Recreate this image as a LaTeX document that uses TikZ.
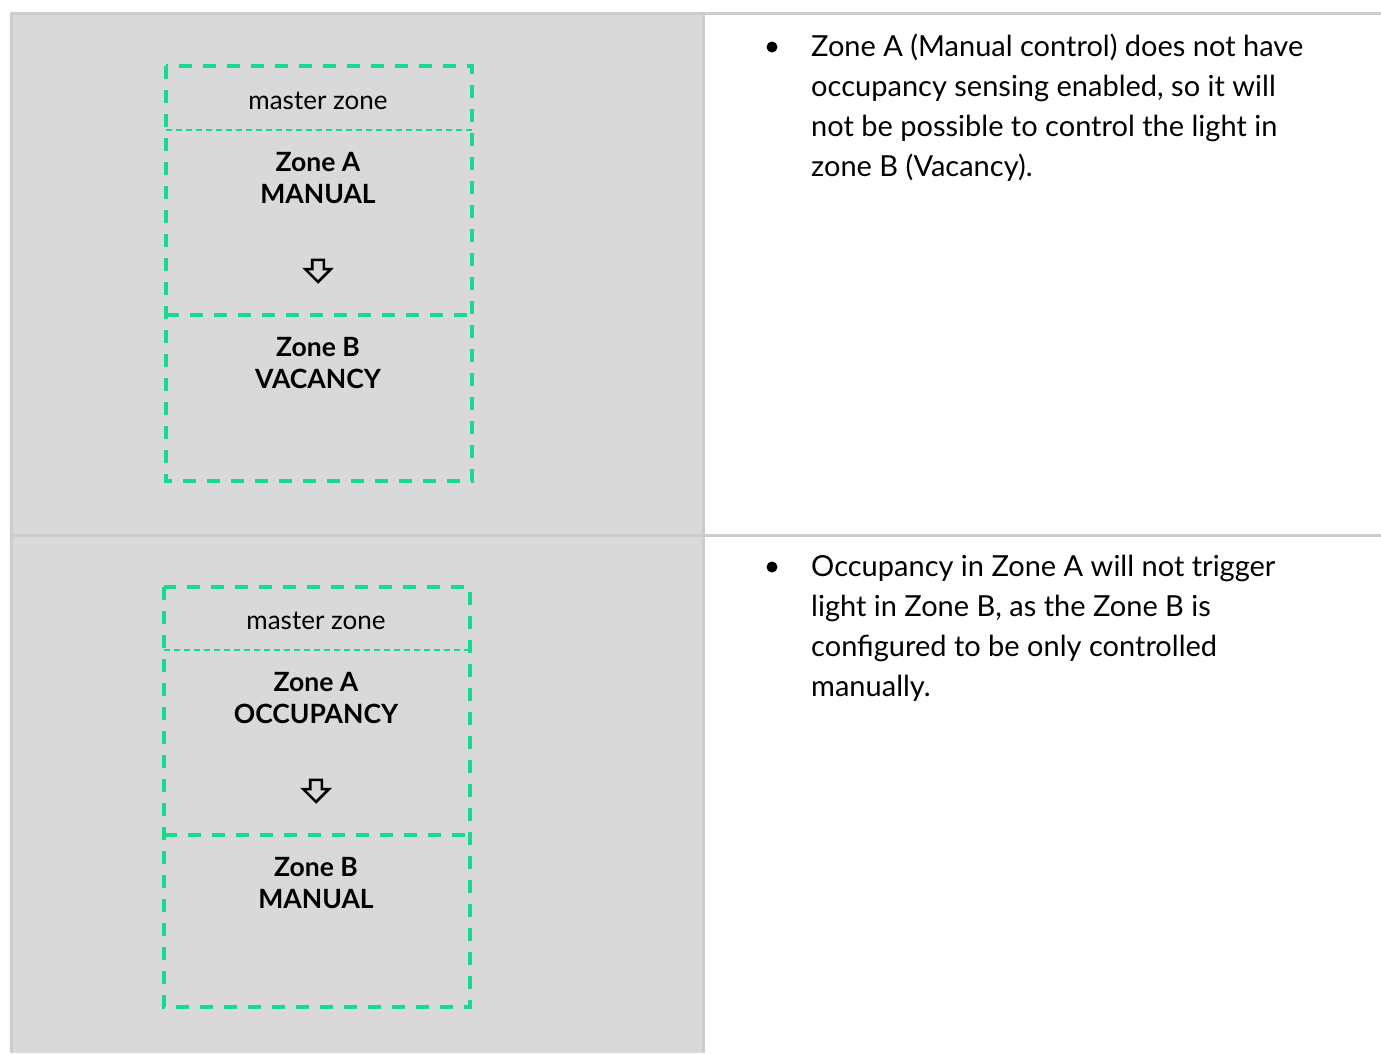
\documentclass[tikz,border=0pt]{standalone}
\usepackage{fontspec}
\setmainfont{Lato}
\usepackage{xcolor}
\usepackage{tikz}
\usetikzlibrary{positioning, shapes.arrows}

\definecolor{cellgray}{HTML}{D9D9D9}
\definecolor{rulegray}{HTML}{CCCCCC}
\definecolor{zonegreen}{HTML}{16DB8F}

\begin{document}
\begin{tikzpicture}[
  x=1pt, y=-1pt,
  cell/.style={fill=cellgray, draw=none},
  rule/.style={draw=rulegray, line width=3pt},
  frame/.style={draw=zonegreen, line width=4pt, dash pattern=on 13pt off 11pt},
  split/.style={draw=zonegreen, line width=2pt, dash pattern=on 6pt off 4pt},
  masterlabel/.style={font=\fontsize{26}{30}\selectfont, anchor=base, inner sep=0pt},
  zonelabel/.style={font=\fontsize{26.5}{32}\selectfont\bfseries, align=center,
                    anchor=base, inner sep=0pt},
  flowarrow/.style={single arrow, draw=black, line width=2.6pt, shape border rotate=270,
                    minimum height=22pt, inner sep=4.5pt, single arrow head extend=7pt,
                    single arrow head indent=0pt},
  bulletdot/.style={circle, fill=black, inner sep=0pt, minimum size=11pt},
  note/.style={font=\fontsize{29}{40}\selectfont, align=left, anchor=base west, inner sep=0pt},
]
\useasboundingbox (0,0) rectangle (1381,1053);
\fill[white] (0,0) rectangle (1381,1053);

% table
\fill[cell] (12,14) rectangle (702,534);
\fill[cell] (12,537) rectangle (702,1053);
\draw[rule] (10,13) -- (1381,13);
\draw[rule] (10,535) -- (1381,535);
\draw[rule] (11,13) -- (11,1053);
\draw[rule] (703,13) -- (703,1053);

% first row (base anchor = last line)
\node[masterlabel] (masterA) at (318,109) {master zone};
\node[zonelabel] (zoneAa) at (318,203) {Zone A\\MANUAL};
\node[flowarrow] (arrA) at (318,268) {};
\node[zonelabel] (zoneBa) at (318,388) {Zone B\\VACANCY};
\draw[frame] (166,66) rectangle (472,481);
\draw[split] (166,130) -- (472,130);
\draw[frame] (166,315) -- (472,315);

\node[bulletdot] (dotA) at (772,47) {};
\node[note] (noteA) at (811,176) {Zone A (Manual control) does not have\\
  occupancy sensing enabled, so it will\\
  not be possible to control the light in\\
  zone B (Vacancy).};

% second row
\node[masterlabel] (masterB) at (316,629) {master zone};
\node[zonelabel] (zoneAb) at (316,723) {Zone A\\OCCUPANCY};
\node[flowarrow] (arrB) at (316,788) {};
\node[zonelabel] (zoneBb) at (316,908) {Zone B\\MANUAL};
\draw[frame] (164,587) rectangle (470,1007);
\draw[split] (164,650) -- (470,650);
\draw[frame] (164,835) -- (470,835);

\node[bulletdot] (dotB) at (772,567) {};
\node[note] (noteB) at (811,696) {Occupancy in Zone A will not trigger\\
  light in Zone B, as the Zone B is\\
  configured to be only controlled\\
  manually.};
\end{tikzpicture}
\end{document}
